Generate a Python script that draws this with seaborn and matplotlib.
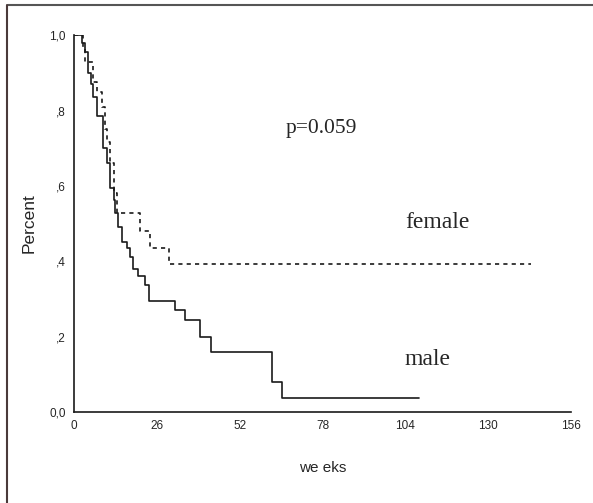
import matplotlib
matplotlib.use("Agg")
import matplotlib.pyplot as plt
import seaborn as sns
from matplotlib.lines import Line2D

# Kaplan-Meier steps (weeks, survival)
male_weeks = [0, 2.4, 3.5, 4.5, 5.3, 6.0, 7.1, 9.2, 10.3, 11.3, 12.4, 12.9, 13.9,
              15.0, 16.6, 17.6, 18.6, 20.2, 22.3, 23.4, 31.8, 34.9, 39.6, 43.1,
              62.2, 65.3, 108.2]
male_surv = [1.0, 0.978, 0.955, 0.90, 0.87, 0.836, 0.785, 0.70, 0.66, 0.594, 0.562,
             0.527, 0.49, 0.45, 0.435, 0.41, 0.38, 0.36, 0.337, 0.294, 0.27, 0.244,
             0.20, 0.16, 0.08, 0.037, 0.037]

female_weeks = [0, 2.8, 3.5, 6.1, 7.1, 8.7, 9.7, 10.3, 11.3, 12.4, 13.4, 20.8,
                23.9, 29.9, 143.4]
female_surv = [1.0, 0.965, 0.93, 0.875, 0.85, 0.81, 0.75, 0.717, 0.66, 0.58,
               0.527, 0.48, 0.436, 0.393, 0.393]

x_ticks = [0, 26, 52, 78, 104, 130, 156]
y_ticks = [0.0, 0.2, 0.4, 0.6, 0.8, 1.0]
y_labels = ["0,0", ",2", ",4", ",6", ",8", "1,0"]

sns.set_style("white")
plt.rcParams['font.family'] = ['Liberation Sans', 'DejaVu Sans']

fig = plt.figure(figsize=(5.93, 5.03), dpi=100)
ax = fig.add_axes([0.1248, 0.181, 0.838, 0.749])

sns.lineplot(x=male_weeks, y=male_surv, ax=ax, drawstyle='steps-post',
             estimator=None, sort=False, color='#1a1a1a', linewidth=1.2)
sns.lineplot(x=female_weeks, y=female_surv, ax=ax, drawstyle='steps-post',
             estimator=None, sort=False, color='#1a1a1a', linewidth=1.2,
             dashes=False, linestyle=(0, (2.5, 2.5)))

ax.set_xlim(0, 156)
ax.set_ylim(0, 1.0)
ax.set_xticks(x_ticks)
ax.set_xticklabels([str(t) for t in x_ticks])
ax.set_yticks(y_ticks)
ax.set_yticklabels(y_labels)
ax.tick_params(direction='out', length=3, width=1.8, color='black',
               labelsize=8.5, pad=3)

for side in ['top', 'right']:
    ax.spines[side].set_visible(False)
for side in ['left', 'bottom']:
    ax.spines[side].set_color('#1a1a1a')
    ax.spines[side].set_linewidth(1.2)

ax.set_xlabel("we eks", fontsize=11, labelpad=21)
ax.set_ylabel("Percent", fontsize=12.5, labelpad=9)

serif = ['Liberation Serif', 'DejaVu Serif']
ax.text(77.7, 0.753, "p=0.059", fontsize=15.5, family=serif,
        ha='center', va='center')
ax.text(114.2, 0.504, "female", fontsize=17, family=serif, ha='center', va='center')
ax.text(111, 0.138, "male", fontsize=17, family=serif, ha='center', va='center')

# scanned frame around the figure
fig.add_artist(Line2D([8 / 593, 1], [1 - 5 / 503, 1 - 5 / 503],
                      transform=fig.transFigure, color='#555555', linewidth=1.5))
fig.add_artist(Line2D([7 / 593, 7 / 593], [0, 1 - 5 / 503],
                      transform=fig.transFigure, color='#4a3a3a', linewidth=1.5))

fig.savefig("out.png", dpi=100)
